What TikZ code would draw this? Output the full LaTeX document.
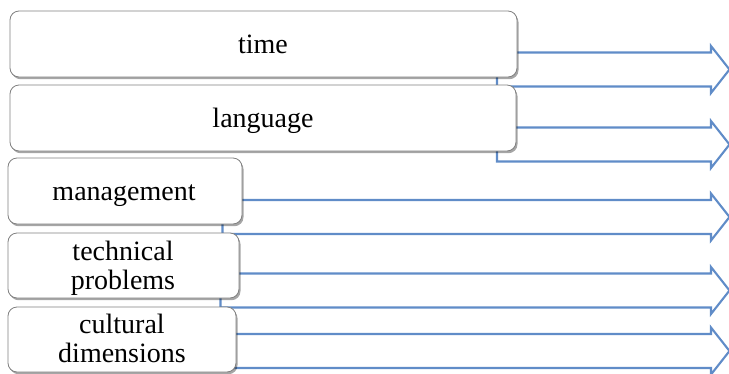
\documentclass[tikz,border=0pt]{standalone}
\usepackage{fontspec}
\setmainfont{Liberation Serif}
\usetikzlibrary{shadows}
\definecolor{arrowblue}{RGB}{96,140,200}
\definecolor{boxgray}{RGB}{128,128,128}
\newcommand\blkarrow[3]{%
  \draw[blkarr] (#2,{#3-17}) -- (711,{#3-17}) -- (711,{#3-23.5}) -- (729.5,#3)
    -- (711,{#3+23.5}) -- (711,{#3+17}) -- (#2,{#3+17}) -- cycle;}
\begin{document}
\begin{tikzpicture}[x=1pt,y=-1pt,
  blkarr/.style={draw=arrowblue,line width=2.1pt,fill=white,line join=miter},
  boxstyle/.style={draw=boxgray,line width=0.8pt,fill=white,rounded corners=9pt,
    inner sep=0pt,
    drop shadow={shadow xshift=1.5pt,shadow yshift=-2.2pt,fill=black,opacity=0.35}},
  lbl/.style={font=\fontsize{28}{28.5}\selectfont,inner sep=0pt,align=center}]
\useasboundingbox (0,0) rectangle (729,373);
% block arrows behind the boxes
\blkarrow{a1}{497}{69.5}
\blkarrow{a2}{497}{144.5}
\blkarrow{a3}{222.5}{217}
\blkarrow{a4}{220.5}{290.5}
\blkarrow{a5}{218}{351}
% boxes
\node[boxstyle,minimum width=507pt,minimum height=66pt] (box1) at (263.5,44) {};
\node[boxstyle,minimum width=506pt,minimum height=66pt] (box2) at (263,118) {};
\node[boxstyle,minimum width=234pt,minimum height=66pt] (box3) at (125,191) {};
\node[boxstyle,minimum width=231pt,minimum height=65pt] (box4) at (123.5,265.5) {};
\node[boxstyle,minimum width=228pt,minimum height=65pt] (box5) at (122,339.5) {};
% labels
\node[lbl,anchor=base] (t1) at (263,53) {time};
\node[lbl,anchor=base] (t2) at (263,127.5) {language};
\node[lbl,anchor=base] (t3) at (124,200) {management};
\node[lbl,anchor=north] (t4) at (123,241) {technical\\problems};
\node[lbl,anchor=north] (t5) at (122,314) {cultural\\dimensions};
\end{tikzpicture}
\end{document}
